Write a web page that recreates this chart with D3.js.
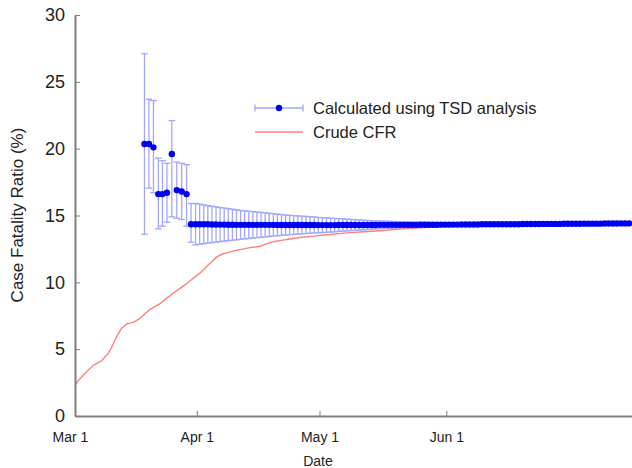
<!DOCTYPE html>
<html>
<head>
<meta charset="utf-8">
<script src="https://cdn.jsdelivr.net/npm/d3@7"></script>
<style>
  html, body { margin: 0; padding: 0; background: #fff; }
  svg { display: block; font-family: "Liberation Sans", Arial, Helvetica, sans-serif; }
</style>
</head>
<body>
<svg id="chart" width="632" height="468"></svg>
<script>
// Days are counted from Mar 1 (Mar 1 = 0).
const tickDays = [0, 31, 61, 92];
const tickLabels = ["Mar 1", "Apr 1", "May 1", "Jun 1"];
const yTicks = [0, 5, 10, 15, 20, 25, 30];

// TSD estimate: early reports (irregular spacing)
const earlyDays  = [18.2, 19.3, 20.4, 21.6, 22.6, 23.7, 24.9, 26.1, 27.3, 28.5, 29.6];
const earlyValue = [20.35, 20.35, 20.1, 16.6, 16.6, 16.7, 19.6, 16.9, 16.8, 16.6, 14.35];
const earlyUpper = [27.1, 23.7, 23.6, 19.3, 19.1, 18.9, 22.1, 19.0, 18.9, 18.8, 15.9];
const earlyLower = [13.6, 17.05, 16.7, 14.0, 14.2, 14.5, 14.9, 14.8, 14.7, 14.2, 13.0];

// TSD estimate: daily values afterwards, with half-width of the interval
const dailyFirstDay = 30.7;
const dailyValue = [
  14.35, 14.35, 14.34, 14.34, 14.33, 14.33, 14.32, 14.32, 14.31, 14.31,
  14.30, 14.30, 14.30, 14.30, 14.30, 14.30, 14.30, 14.30, 14.30, 14.30,
  14.29, 14.29, 14.29, 14.29, 14.29, 14.29, 14.29, 14.29, 14.29, 14.29,
  14.28, 14.28, 14.28, 14.28, 14.28, 14.29, 14.29, 14.29, 14.29, 14.29,
  14.29, 14.29, 14.29, 14.29, 14.29, 14.30, 14.30, 14.30, 14.30, 14.30,
  14.30, 14.30, 14.30, 14.30, 14.30, 14.31, 14.31, 14.31, 14.31, 14.31,
  14.32, 14.32, 14.32, 14.32, 14.32, 14.33, 14.33, 14.33, 14.33, 14.33,
  14.34, 14.34, 14.34, 14.34, 14.34, 14.35, 14.35, 14.35, 14.35, 14.35,
  14.36, 14.36, 14.36, 14.36, 14.36, 14.37, 14.37, 14.37, 14.37, 14.37,
  14.38, 14.38, 14.38, 14.38, 14.38, 14.39, 14.39, 14.39, 14.39, 14.39,
  14.40, 14.40, 14.40, 14.40, 14.41, 14.41, 14.41
];
const dailyHalfWidth = [
  1.55, 1.50, 1.45, 1.40, 1.36, 1.32, 1.28, 1.24, 1.20, 1.16,
  1.12, 1.08, 1.05, 1.02, 0.99, 0.96, 0.93, 0.90, 0.87, 0.84,
  0.81, 0.78, 0.75, 0.72, 0.70, 0.68, 0.66, 0.64, 0.62, 0.60,
  0.58, 0.56, 0.54, 0.52, 0.50, 0.48, 0.46, 0.44, 0.42, 0.40,
  0.38, 0.36, 0.34, 0.32, 0.30, 0.29, 0.28, 0.27, 0.26, 0.25,
  0.24, 0.23, 0.22, 0.21, 0.20, 0.19, 0.18, 0.17, 0.16, 0.15,
  0.15, 0.14, 0.14, 0.13, 0.13, 0.12, 0.12, 0.12, 0.11, 0.11,
  0.11, 0.11, 0.11, 0.11, 0.11, 0.10, 0.10, 0.10, 0.10, 0.10,
  0.10, 0.10, 0.10, 0.10, 0.10, 0.10, 0.10, 0.10, 0.10, 0.10,
  0.10, 0.10, 0.10, 0.10, 0.10, 0.10, 0.10, 0.10, 0.10, 0.10,
  0.10, 0.10, 0.10, 0.10, 0.10, 0.10, 0.10
];

// Crude CFR (deaths / cases)
const crudeDays = [
  1.2, 2, 3.3, 4.5, 5.7, 6.9, 7.8, 8.6, 9.4, 10.2, 11.0, 11.8, 12.6, 13.9, 14.7,
  15.5, 16.3, 17.1, 18.3, 19.6, 20.8, 22.0, 23.6, 25.3, 26.9, 28.5, 30.1, 31.8,
  33.8, 35.9, 37.1, 38.3, 40.0, 41.6, 44.0, 46.5, 48.1, 49.7, 51.3, 53.0, 56.2,
  59.5, 63.6, 67.7, 71.8, 75.8, 80.7, 85.6, 90.5, 95.4, 100.3, 105.1, 111.3,
  117.4, 123.5, 129.6, 137.4
];
const crudeValue = [
  2.3, 2.65, 3.07, 3.45, 3.8, 4.0, 4.15, 4.45, 4.7, 5.15, 5.7, 6.15, 6.55, 6.9, 6.95,
  7.0, 7.15, 7.3, 7.65, 7.98, 8.2, 8.4, 8.8, 9.2, 9.55, 9.9, 10.3, 10.7,
  11.3, 11.9, 12.1, 12.2, 12.35, 12.45, 12.6, 12.7, 12.9, 13.04, 13.12, 13.2, 13.35,
  13.46, 13.58, 13.7, 13.78, 13.86, 13.98, 14.08, 14.15, 14.2, 14.25, 14.3, 14.35,
  14.4, 14.43, 14.45, 14.5
];

const seriesNames = ["Calculated using TSD analysis", "Crude CFR"];

const axisColor = "#7f7f7f";
const barColor = "#a3a6ff";
const dotColor = "#0000f0";
const crudeColor = "#ff8080";
const textColor = "#222";

const svg = d3.select("#chart");

const x = d3.scaleLinear().domain([1.22, 137.4]).range([75, 632]);
const y = d3.scaleLinear().domain([0, 30]).range([416, 15]);

// Combined TSD table
const tsd = earlyDays.map((d, i) => ({
  day: d, v: earlyValue[i], lo: earlyLower[i], hi: earlyUpper[i]
})).concat(dailyValue.map((v, i) => ({
  day: dailyFirstDay + i, v: v, lo: v - dailyHalfWidth[i], hi: v + dailyHalfWidth[i]
})));

const crude = crudeDays.map((d, i) => ({ day: d, v: crudeValue[i] }));

const plot = svg.append("g");
const capW = 3.3;

// error bars
const bars = plot.append("g")
  .attr("stroke", barColor).attr("stroke-width", 1.3).attr("fill", "none");
tsd.forEach(p => {
  const px = x(p.day);
  bars.append("line").attr("x1", px).attr("x2", px).attr("y1", y(p.lo)).attr("y2", y(p.hi));
  bars.append("line").attr("x1", px - capW).attr("x2", px + capW).attr("y1", y(p.lo)).attr("y2", y(p.lo));
  bars.append("line").attr("x1", px - capW).attr("x2", px + capW).attr("y1", y(p.hi)).attr("y2", y(p.hi));
});

// crude CFR line
plot.append("path")
  .datum(crude)
  .attr("fill", "none")
  .attr("stroke", crudeColor)
  .attr("stroke-width", 1.4)
  .attr("d", d3.line().x(d => x(d.day)).y(d => y(d.v)));

// TSD points
plot.append("g").selectAll("circle")
  .data(tsd).join("circle")
  .attr("cx", d => x(d.day)).attr("cy", d => y(d.v)).attr("r", 3.2)
  .attr("fill", dotColor);

// Axes
const yAxis = svg.append("g")
  .attr("transform", "translate(75,0)")
  .call(d3.axisLeft(y).tickValues(yTicks).tickSizeInner(-5).tickSizeOuter(0).tickPadding(10));
yAxis.selectAll("text").attr("font-size", 18).attr("fill", textColor)
  .attr("font-family", "Liberation Sans, Arial, sans-serif");

const xAxis = svg.append("g")
  .attr("transform", "translate(0,416)")
  .call(d3.axisBottom(x).tickValues(tickDays).tickFormat((d, i) => tickLabels[i])
    .tickSizeInner(-5).tickSizeOuter(0).tickPadding(16));
xAxis.selectAll("text").attr("font-size", 14).attr("fill", textColor)
  .attr("font-family", "Liberation Sans, Arial, sans-serif");
// the first tick falls left of the plot frame; keep only its label
xAxis.selectAll(".tick").filter(d => x(d) < 75).select("line").remove();

[yAxis, xAxis].forEach(a => {
  a.select(".domain").attr("stroke", axisColor).attr("stroke-width", 2);
  a.selectAll(".tick line").attr("stroke", axisColor).attr("stroke-width", 1);
});

// Axis titles
svg.append("text")
  .attr("transform", "translate(23,215) rotate(-90)")
  .attr("text-anchor", "middle")
  .attr("font-size", 17).attr("fill", textColor)
  .text("Case Fatality Ratio (%)");

svg.append("text")
  .attr("x", 318).attr("y", 466)
  .attr("text-anchor", "middle")
  .attr("font-size", 14).attr("fill", textColor)
  .text("Date");

// Legend
const legend = svg.append("g");
const lx0 = 255, lx1 = 303, ly0 = 108, ly1 = 132;
legend.append("line").attr("x1", lx0).attr("x2", lx1).attr("y1", ly0).attr("y2", ly0)
  .attr("stroke", barColor).attr("stroke-width", 1.3);
[lx0, lx1].forEach(cx => legend.append("line")
  .attr("x1", cx).attr("x2", cx).attr("y1", ly0 - 3.5).attr("y2", ly0 + 3.5)
  .attr("stroke", barColor).attr("stroke-width", 1.3));
legend.append("circle").attr("cx", (lx0 + lx1) / 2).attr("cy", ly0).attr("r", 3.2).attr("fill", dotColor);
legend.append("line").attr("x1", lx0).attr("x2", lx1).attr("y1", ly1).attr("y2", ly1)
  .attr("stroke", crudeColor).attr("stroke-width", 1.4);

legend.selectAll("text.lbl")
  .data(seriesNames).join("text")
  .attr("class", "lbl")
  .attr("x", 313).attr("y", (d, i) => i === 0 ? ly0 + 5.5 : ly1 + 6)
  .attr("font-size", 16.5).attr("fill", textColor)
  .text(d => d);
</script>
</body>
</html>
